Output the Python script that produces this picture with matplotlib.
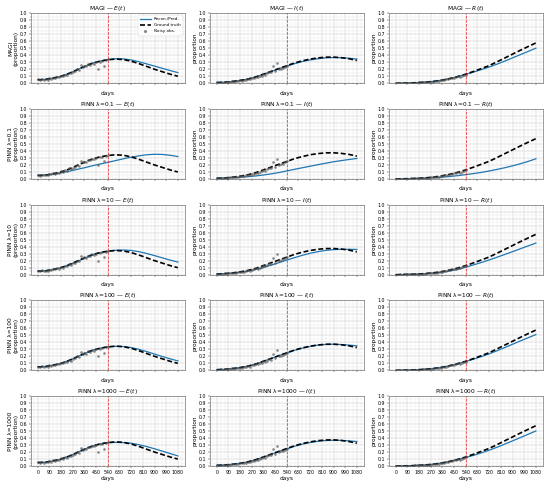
import matplotlib
matplotlib.use('Agg')
import matplotlib.pyplot as plt
from matplotlib.ticker import MultipleLocator, AutoMinorLocator

# time grid of the curves (days)
days = [0, 60, 120, 180, 240, 300, 360, 420, 480, 540, 600, 660, 720, 780, 840, 900, 960, 1020, 1080]

truth_E = [0.050, 0.055, 0.075, 0.100, 0.140, 0.190, 0.240, 0.285, 0.315, 0.335, 0.345, 0.338, 0.315, 0.280, 0.240, 0.200, 0.165, 0.130, 0.100]
truth_I = [0.010, 0.015, 0.025, 0.040, 0.060, 0.090, 0.130, 0.170, 0.210, 0.250, 0.290, 0.320, 0.345, 0.362, 0.372, 0.373, 0.365, 0.350, 0.325]
truth_R = [0.000, 0.0025, 0.0055, 0.0105, 0.018, 0.029, 0.046, 0.068, 0.096, 0.130, 0.169, 0.210, 0.252, 0.305, 0.360, 0.415, 0.470, 0.523, 0.575]

magi_E = [0.050, 0.055, 0.075, 0.100, 0.140, 0.190, 0.240, 0.285, 0.317, 0.338, 0.350, 0.348, 0.333, 0.307, 0.276, 0.245, 0.213, 0.182, 0.152]
magi_I = [0.010, 0.015, 0.025, 0.040, 0.060, 0.090, 0.128, 0.168, 0.208, 0.245, 0.280, 0.310, 0.333, 0.350, 0.362, 0.367, 0.365, 0.357, 0.345]
magi_R = [0.000, 0.0025, 0.0055, 0.0105, 0.018, 0.029, 0.046, 0.068, 0.096, 0.128, 0.160, 0.195, 0.232, 0.272, 0.316, 0.362, 0.408, 0.454, 0.500]

pinn01_E = [0.050, 0.058, 0.070, 0.088, 0.110, 0.135, 0.160, 0.188, 0.213, 0.237, 0.262, 0.288, 0.310, 0.330, 0.345, 0.352, 0.350, 0.338, 0.320]
pinn01_I = [0.010, 0.013, 0.018, 0.025, 0.033, 0.043, 0.057, 0.073, 0.092, 0.115, 0.138, 0.160, 0.182, 0.204, 0.225, 0.245, 0.262, 0.278, 0.292]
pinn01_R = [0.000, 0.002, 0.004, 0.008, 0.013, 0.019, 0.027, 0.036, 0.048, 0.062, 0.077, 0.094, 0.114, 0.136, 0.160, 0.187, 0.217, 0.250, 0.288]

pinn10_E = [0.050, 0.056, 0.074, 0.100, 0.138, 0.185, 0.235, 0.280, 0.313, 0.335, 0.348, 0.352, 0.345, 0.328, 0.302, 0.272, 0.240, 0.208, 0.180]
pinn10_I = [0.010, 0.014, 0.022, 0.035, 0.052, 0.075, 0.104, 0.137, 0.172, 0.208, 0.243, 0.276, 0.305, 0.328, 0.346, 0.357, 0.362, 0.362, 0.360]
pinn10_R = [0.000, 0.002, 0.005, 0.009, 0.015, 0.024, 0.037, 0.054, 0.077, 0.108, 0.140, 0.174, 0.210, 0.248, 0.288, 0.328, 0.369, 0.410, 0.450]

pinn100_E = [0.050, 0.055, 0.075, 0.100, 0.140, 0.190, 0.240, 0.285, 0.316, 0.336, 0.343, 0.340, 0.325, 0.300, 0.268, 0.232, 0.198, 0.165, 0.135]
pinn100_I = [0.010, 0.015, 0.025, 0.040, 0.060, 0.090, 0.130, 0.170, 0.210, 0.250, 0.287, 0.317, 0.342, 0.360, 0.370, 0.373, 0.368, 0.360, 0.350]
pinn100_R = [0.000, 0.0025, 0.0055, 0.0105, 0.018, 0.029, 0.046, 0.068, 0.096, 0.127, 0.160, 0.196, 0.236, 0.279, 0.325, 0.372, 0.419, 0.465, 0.510]

pinn1000_E = [0.050, 0.055, 0.075, 0.100, 0.140, 0.190, 0.240, 0.285, 0.315, 0.333, 0.338, 0.335, 0.325, 0.305, 0.278, 0.247, 0.213, 0.179, 0.145]
pinn1000_I = [0.010, 0.015, 0.025, 0.040, 0.060, 0.090, 0.128, 0.168, 0.208, 0.245, 0.282, 0.312, 0.336, 0.353, 0.364, 0.368, 0.366, 0.359, 0.350]
pinn1000_R = [0.000, 0.0025, 0.0055, 0.0105, 0.018, 0.029, 0.046, 0.068, 0.095, 0.122, 0.153, 0.188, 0.226, 0.268, 0.313, 0.359, 0.406, 0.453, 0.500]

# noisy observations (training window)
obs_t = [0, 15, 30, 45, 60, 75, 90, 105, 120, 135, 150, 165, 180, 195, 210, 225, 240, 255, 270,
         285, 300, 315, 330, 345, 360, 375, 390, 405, 420, 435, 450, 465, 480, 495, 510, 525, 540]
obs_E = [0.055, 0.048, 0.060, 0.050, 0.058, 0.052, 0.070, 0.065, 0.080, 0.075, 0.090, 0.085, 0.110, 0.100,
         0.125, 0.118, 0.150, 0.140, 0.160, 0.170, 0.200, 0.190, 0.260, 0.235, 0.245, 0.240, 0.270, 0.265,
         0.290, 0.280, 0.300, 0.200, 0.310, 0.320, 0.250, 0.330, 0.340]
obs_I = [0.012, 0.008, 0.015, 0.010, 0.018, 0.014, 0.020, 0.022, 0.028, 0.025, 0.030, 0.035, 0.040, 0.038,
         0.045, 0.050, 0.060, 0.055, 0.070, 0.075, 0.090, 0.085, 0.100, 0.110, 0.130, 0.120, 0.140, 0.160,
         0.155, 0.240, 0.170, 0.290, 0.200, 0.210, 0.220, 0.235, 0.250]
obs_R = [0.002, 0.000, 0.003, 0.001, 0.004, 0.003, 0.005, 0.006, 0.007, 0.006, 0.009, 0.010, 0.012, 0.011,
         0.015, 0.014, 0.018, 0.020, 0.022, 0.025, 0.030, 0.028, 0.035, 0.040, 0.045, 0.050, 0.055, 0.060,
         0.070, 0.075, 0.080, 0.085, 0.100, 0.090, 0.105, 0.120, 0.125]

t_split = 540
methods = ['MAGI', 'PINN λ=0.1', 'PINN λ=10', 'PINN λ=100', 'PINN λ=1000']
preds = [
    [magi_E, magi_I, magi_R],
    [pinn01_E, pinn01_I, pinn01_R],
    [pinn10_E, pinn10_I, pinn10_R],
    [pinn100_E, pinn100_I, pinn100_R],
    [pinn1000_E, pinn1000_I, pinn1000_R],
]
truths = [truth_E, truth_I, truth_R]
observed = [obs_E, obs_I, obs_R]
comps = ['E', 'I', 'R']

fig, axes = plt.subplots(5, 3, figsize=(5.5, 4.86), dpi=100)
plt.subplots_adjust(left=0.056, right=0.987, top=0.973, bottom=0.041, wspace=0.162, hspace=0.364)

for r in range(5):
    for c in range(3):
        ax = axes[r, c]
        ax.plot(days, preds[r][c], color='#1f77b4', lw=0.9, label='Recon./Pred.')
        ax.plot(days, truths[c], color='black', ls='--', lw=1.2, dashes=(3, 1.5), label='Ground truth')
        ax.scatter(obs_t, observed[c], s=3.5, color='#555555', alpha=0.7, lw=0, label='Noisy obs.', zorder=3)
        ax.axvline(t_split, color='red', ls='--', lw=0.55, alpha=0.8)
        ax.set_ylim(0, 1.0)
        ax.xaxis.set_major_locator(MultipleLocator(90))
        ax.xaxis.set_minor_locator(AutoMinorLocator(3))
        ax.yaxis.set_major_locator(MultipleLocator(0.1))
        ax.yaxis.set_minor_locator(AutoMinorLocator(2))
        ax.grid(which='major', color='#c8c8c8', lw=0.35)
        ax.grid(which='minor', color='#e4e4e4', lw=0.25)
        ax.tick_params(which='major', labelsize=3.4, length=1.5, width=0.3, pad=1)
        ax.tick_params(which='minor', length=0.8, width=0.2)
        for s in ax.spines.values():
            s.set_linewidth(0.4)
            s.set_color('#555555')
        if r < 4:
            ax.tick_params(labelbottom=False)
        ax.set_xlabel('days', fontsize=4.2, labelpad=1)
        if c == 0:
            ax.set_ylabel(methods[r] + '\n(proportion)', fontsize=4.2, labelpad=1, linespacing=1.05)
        else:
            ax.set_ylabel('proportion', fontsize=4.2, labelpad=1)
        ax.set_title(methods[r] + ' — $' + comps[c] + '(t)$', fontsize=4.2, pad=2)

leg = axes[0, 0].legend(loc='upper right', fontsize=3.0, frameon=True, handlelength=2.6,
                        borderpad=0.5, labelspacing=0.5, framealpha=0.9, edgecolor='#cccccc',
                        markerscale=1.2)
leg.get_frame().set_linewidth(0.3)

plt.savefig('out.png', dpi=100)
plt.close('all')
